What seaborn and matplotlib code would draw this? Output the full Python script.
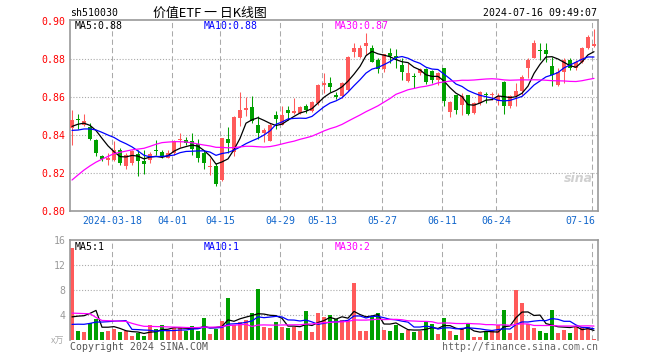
import numpy as np
import pandas as pd
import matplotlib
matplotlib.use("Agg")
import matplotlib.pyplot as plt
import seaborn as sns

# ---------------- data ----------------
open_ = [0.8437, 0.8485, 0.8454, 0.8442, 0.8375, 0.8288, 0.8270, 0.8270, 0.8323, 0.8235,
         0.8253, 0.8300, 0.8261, 0.8267, 0.8323, 0.8311, 0.8282, 0.8305, 0.8372, 0.8375,
         0.8367, 0.8351, 0.8304, 0.8230, 0.8238, 0.8165, 0.8377, 0.8311, 0.8490, 0.8534,
         0.8546, 0.8456, 0.8409, 0.8369, 0.8508, 0.8456, 0.8534, 0.8517, 0.8517, 0.8555,
         0.8525, 0.8569, 0.8664, 0.8677, 0.8612, 0.8604, 0.8639, 0.8840, 0.8814, 0.8872,
         0.8858, 0.8796, 0.8749, 0.8832, 0.8819, 0.8770, 0.8686, 0.8709, 0.8726, 0.8749,
         0.8739, 0.8691, 0.8753, 0.8521, 0.8609, 0.8560, 0.8609, 0.8516, 0.8568, 0.8618,
         0.8609, 0.8581, 0.8682, 0.8551, 0.8604, 0.8633, 0.8753, 0.8809, 0.8849, 0.8849,
         0.8767, 0.8665, 0.8735, 0.8796, 0.8753, 0.8784, 0.8861, 0.8872]
high = [0.8535, 0.8512, 0.8509, 0.8463, 0.8378, 0.8296, 0.8305, 0.8367, 0.8330, 0.8305,
        0.8323, 0.8323, 0.8323, 0.8309, 0.8375, 0.8323, 0.8323, 0.8372, 0.8411, 0.8390,
        0.8411, 0.8380, 0.8316, 0.8282, 0.8255, 0.8386, 0.8443, 0.8499, 0.8630, 0.8600,
        0.8607, 0.8500, 0.8438, 0.8464, 0.8529, 0.8555, 0.8555, 0.8598, 0.8555, 0.8563,
        0.8581, 0.8668, 0.8725, 0.8704, 0.8630, 0.8679, 0.8818, 0.8884, 0.8875, 0.8937,
        0.8875, 0.8805, 0.8830, 0.8858, 0.8854, 0.8805, 0.8779, 0.8726, 0.8756, 0.8756,
        0.8744, 0.8735, 0.8756, 0.8581, 0.8612, 0.8621, 0.8612, 0.8577, 0.8633, 0.8630,
        0.8630, 0.8621, 0.8686, 0.8612, 0.8677, 0.8718, 0.8805, 0.8902, 0.8884, 0.8884,
        0.8814, 0.8753, 0.8805, 0.8805, 0.8796, 0.8867, 0.8928, 0.8960]
low = [0.8350, 0.8430, 0.8446, 0.8375, 0.8288, 0.8265, 0.8244, 0.8261, 0.8244, 0.8223,
       0.8244, 0.8186, 0.8196, 0.8253, 0.8296, 0.8279, 0.8277, 0.8296, 0.8340, 0.8350,
       0.8296, 0.8260, 0.8221, 0.8190, 0.8134, 0.8160, 0.8308, 0.8290, 0.8447, 0.8499,
       0.8464, 0.8377, 0.8363, 0.8367, 0.8430, 0.8454, 0.8482, 0.8513, 0.8513, 0.8517,
       0.8522, 0.8560, 0.8621, 0.8630, 0.8590, 0.8598, 0.8635, 0.8814, 0.8809, 0.8823,
       0.8784, 0.8726, 0.8735, 0.8779, 0.8756, 0.8691, 0.8682, 0.8651, 0.8718, 0.8668,
       0.8674, 0.8665, 0.8551, 0.8498, 0.8511, 0.8504, 0.8507, 0.8511, 0.8560, 0.8568,
       0.8586, 0.8560, 0.8511, 0.8542, 0.8551, 0.8612, 0.8700, 0.8805, 0.8796, 0.8788,
       0.8661, 0.8661, 0.8674, 0.8744, 0.8744, 0.8779, 0.8854, 0.8867]
close = [0.8480, 0.8478, 0.8477, 0.8382, 0.8305, 0.8274, 0.8279, 0.8323, 0.8253, 0.8296,
         0.8314, 0.8261, 0.8249, 0.8302, 0.8316, 0.8286, 0.8305, 0.8367, 0.8379, 0.8361,
         0.8326, 0.8277, 0.8252, 0.8238, 0.8143, 0.8384, 0.8357, 0.8496, 0.8534, 0.8544,
         0.8473, 0.8412, 0.8426, 0.8456, 0.8487, 0.8508, 0.8517, 0.8525, 0.8546, 0.8534,
         0.8577, 0.8664, 0.8677, 0.8656, 0.8602, 0.8674, 0.8814, 0.8861, 0.8861, 0.8884,
         0.8788, 0.8749, 0.8826, 0.8819, 0.8809, 0.8732, 0.8726, 0.8704, 0.8749, 0.8679,
         0.8691, 0.8726, 0.8581, 0.8574, 0.8533, 0.8604, 0.8511, 0.8568, 0.8630, 0.8609,
         0.8618, 0.8607, 0.8551, 0.8604, 0.8633, 0.8709, 0.8796, 0.8884, 0.8844, 0.8826,
         0.8718, 0.8735, 0.8796, 0.8756, 0.8784, 0.8861, 0.8919, 0.8879]
volume = [14.77, 1.49, 1.33, 2.77, 3.31, 1.33, 1.49, 1.81, 1.33, 1.44,
          0.64, 1.17, 0.64, 2.40, 1.76, 2.40, 1.39, 1.97, 2.13, 1.49,
          2.24, 1.49, 3.52, 0.96, 1.81, 3.09, 6.72, 2.40, 2.93, 3.20,
          4.32, 8.16, 2.13, 1.97, 2.93, 2.13, 1.97, 2.13, 1.49, 4.69,
          1.33, 4.32, 3.73, 4.00, 3.31, 3.20, 3.20, 9.17, 1.49, 1.49,
          3.89, 4.32, 1.60, 1.44, 2.40, 1.17, 1.65, 1.28, 1.49, 2.93,
          2.56, 0.96, 3.57, 1.49, 0.80, 1.76, 2.67, 0.53, 0.53, 1.39,
          1.49, 2.40, 4.80, 1.17, 8.00, 5.97, 2.51, 1.97, 1.49, 1.17,
          4.80, 1.17, 1.65, 1.17, 2.13, 2.13, 2.03, 0.21]
# sessions before the visible window (only feed the moving averages)
pre_close = [0.768, 0.770, 0.772, 0.772, 0.780, 0.784, 0.788, 0.805, 0.810, 0.812,
             0.814, 0.812, 0.800, 0.798, 0.803, 0.822, 0.830, 0.838, 0.842, 0.845,
             0.846, 0.842, 0.838, 0.836, 0.840, 0.842, 0.845, 0.844, 0.844]
pre_volume = [2.5, 2.5, 3.5, 21.0, 16.0, 2.5, 3.0, 2.5, 2.5, 10.0,
              9.0, 7.0, 2.8, 2.6, 3.0, 2.5, 2.8, 2.7, 2.9, 2.7,
              1.2, 1.5, 1.3, 1.2, 1.3, 0.9, 1.0, 0.9, 0.93]
date_labels = ["2024-03-18", "04-01", "04-15", "04-29", "05-13",
               "05-27", "06-11", "06-24", "07-16"]
date_index = [7, 17, 25, 35, 42, 52, 62, 71, 87]
price_ticks = [0.80, 0.82, 0.84, 0.86, 0.88, 0.90]
volume_ticks = [4, 8, 12, 16]
ma_windows = [5, 10, 30]

# ---------------- styling ----------------
sns.set_style("white")
plt.rcParams["font.family"] = ["DejaVu Sans Mono", "Noto Sans CJK SC"]

RED = "#ff5a5a"
GREEN = "#00a000"
MA_COLORS = ["#000000", "#0000ff", "#ff00ff"]
GRID = "#aaaaaa"
SPINE = "#999999"
FS = 7.1

W, H = 660, 360
fig = plt.figure(figsize=(W / 100, H / 100), dpi=100)
fig.patch.set_facecolor("white")
ax1 = fig.add_axes([70 / W, 1 - 211 / H, 528 / W, 191 / H])
ax2 = fig.add_axes([70 / W, 1 - 340 / H, 528 / W, 100 / H])


def T(x, y, s, **kw):
    kw.setdefault("fontsize", FS)
    kw.setdefault("va", "center")
    return fig.text(x / W, 1 - y / H, s, **kw)


n = len(close)
idx = np.arange(n)
o = np.array(open_)
c = np.array(close)
hi = np.array(high)
lo = np.array(low)
up = c >= o
cols = np.where(up, RED, GREEN)

full_c = pd.Series(pre_close + close)
full_v = pd.Series(pre_volume + volume)
k = len(pre_close)
price_ma = [full_c.rolling(w).mean().to_numpy()[k:] for w in ma_windows]
vol_ma = [full_v.rolling(w).mean().to_numpy()[k:] for w in ma_windows]

grid_x = [i - 0.3 for i in date_index]
XMIN, XMAX = -0.333, n - 0.333

# ---------------- price panel ----------------
for g in grid_x:
    ax1.axvline(g, color=GRID, lw=0.75, ls=(0, (5, 3)), zorder=0)
for p in price_ticks[1:-1]:
    ax1.axhline(p, color=GRID, lw=0.8, ls=(0, (1, 1.6)), zorder=0)

ax1.vlines(idx, lo, hi, colors=cols, lw=0.75, zorder=2)
body_lo = np.minimum(o, c)
body_h = np.maximum(np.abs(c - o), 0.0006)
ax1.bar(idx, body_h, bottom=body_lo, width=0.75, color=cols, linewidth=0, zorder=3)

for ma, col in zip(price_ma, MA_COLORS):
    sns.lineplot(x=idx, y=ma, color=col, lw=0.9, ax=ax1, zorder=4, estimator=None)

ax1.set_xlim(XMIN, XMAX)
ax1.set_ylim(0.80, 0.9007)
ax1.set_yticks(price_ticks)
ax1.set_yticklabels([f"{p:.2f}" for p in price_ticks])
ax1.tick_params(axis="y", length=0, pad=3, labelsize=FS, labelcolor="#ff0000")
ax1.set_xticks([])
ax1.set_xlabel("")
ax1.set_ylabel("")
for s in ax1.spines.values():
    s.set_color(SPINE)
    s.set_linewidth(1.2)

# date labels under the price panel (kept inside the plot width)
x0_px, x1_px = 70, 598
for g, lab in zip(grid_x, date_labels):
    cx = x0_px + (g - XMIN) / (XMAX - XMIN) * (x1_px - x0_px)
    half = len(lab) * 5.95 / 2
    cx = min(cx, 595 - half)
    T(cx, 220.5, lab, ha="center", color="#1166cc")

# ---------------- volume panel ----------------
for g in grid_x:
    ax2.axvline(g, color=GRID, lw=0.75, ls=(0, (5, 3)), zorder=0)
for v in volume_ticks[:-1]:
    ax2.axhline(v, color=GRID, lw=0.8, ls=(0, (1, 1.6)), zorder=0)

vdf = pd.DataFrame({"i": idx, "vol": volume, "dir": np.where(up, "up", "down")})
sns.barplot(data=vdf, x="i", y="vol", hue="dir", palette={"up": RED, "down": GREEN},
            native_scale=True, dodge=False, width=0.8, linewidth=0, errorbar=None,
            saturation=1, legend=False, ax=ax2, zorder=2)
for ma, col in zip(vol_ma, MA_COLORS):
    sns.lineplot(x=idx, y=ma, color=col, lw=0.9, ax=ax2, zorder=4, estimator=None)

ax2.set_xlim(XMIN, XMAX)
ax2.set_ylim(0, 16)
ax2.set_yticks(volume_ticks)
ax2.set_yticklabels([str(v) for v in volume_ticks])
ax2.tick_params(axis="y", length=0, pad=3, labelsize=FS, labelcolor="#999999")
ax2.set_xticks([])
ax2.set_xlabel("")
ax2.set_ylabel("")
for name, s in ax2.spines.items():
    s.set_color(SPINE)
    s.set_linewidth(1.2)
ax2.spines["bottom"].set_visible(False)

# ---------------- texts ----------------
T(70, 13, "sh510030", ha="left", color="black")
T(210, 13, "价值ETF 一 日K线图", ha="center", color="black", fontsize=9.3,
  family=["Noto Sans CJK SC", "DejaVu Sans"])
T(597, 13, "2024-07-16 09:49:07", ha="right", color="black")

ma_x = [75, 204, 335]
for w, ma, col, x in zip(ma_windows, price_ma, MA_COLORS, ma_x):
    T(x, 26, f"MA{w}:{ma[-1]:.2f}", ha="left", color=col)
for w, ma, col, x in zip(ma_windows, vol_ma, MA_COLORS, ma_x):
    T(x, 247, f"MA{w}:{int(ma[-1])}", ha="left", color=col)

T(64, 341, "x万", ha="right", color="#aaaaaa", fontsize=6.5,
  family=["Noto Sans CJK SC", "DejaVu Sans"])
T(70, 347, "Copyright 2024 SINA.COM", ha="left", color="#555555")
T(598, 347, "http://finance.sina.com.cn", ha="right", color="#666666")
T(578, 178, "sina", ha="center", color="#d0d0d0", fontsize=9, style="italic",
  weight="bold", family=["DejaVu Sans"])

fig.savefig("out.png", dpi=100)
